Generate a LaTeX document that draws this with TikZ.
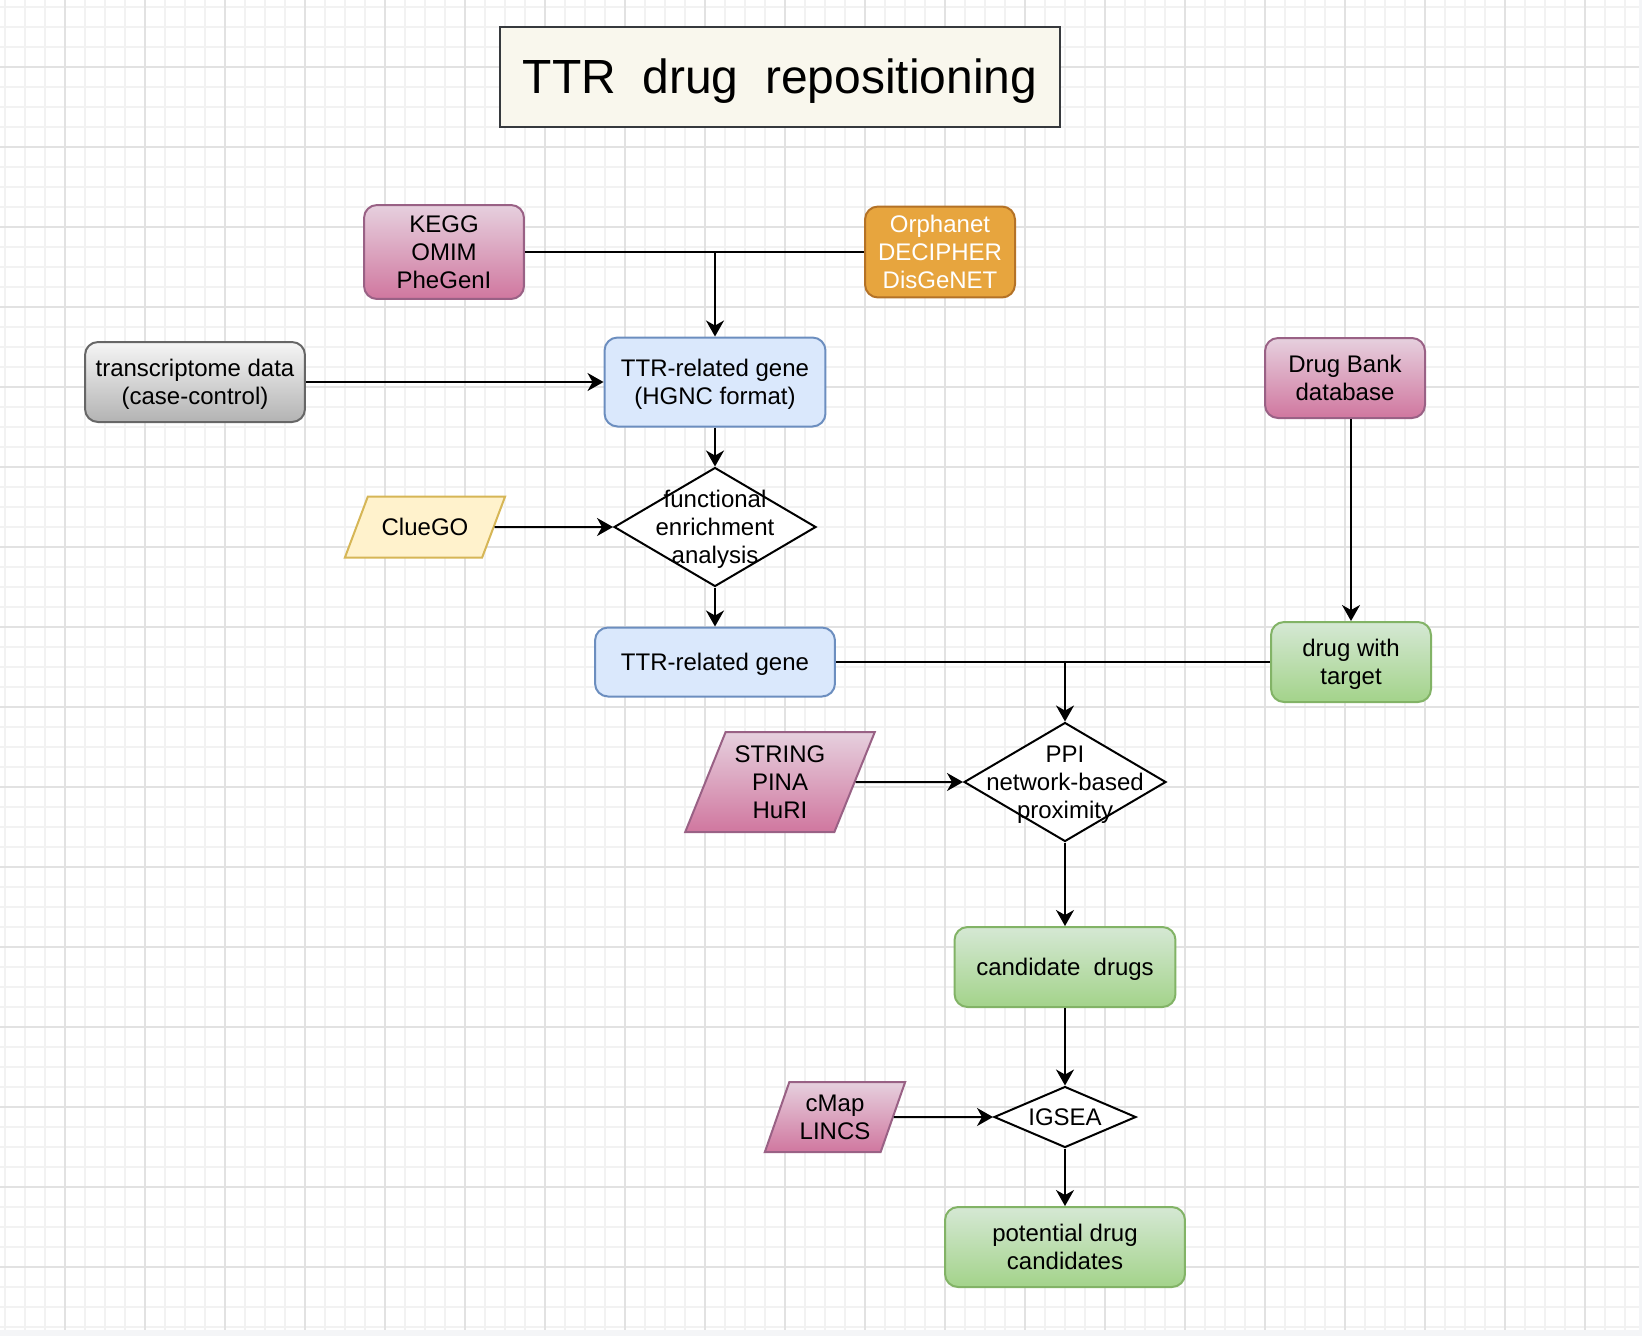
\documentclass[tikz,border=0pt]{standalone}
\usepackage{fontspec}
\setmainfont{Liberation Sans}
\usepackage{tikz}
\usetikzlibrary{shapes.geometric,arrows.meta}

\definecolor{outgray}{HTML}{F4F5F7}
\definecolor{minorgray}{HTML}{F2F2F2}
\definecolor{majorgray}{HTML}{E2E2E2}
\definecolor{titlefill}{HTML}{F9F7ED}
\definecolor{titleline}{HTML}{36393D}
\definecolor{pinktop}{HTML}{E6D0DE}
\definecolor{pinkbot}{HTML}{D0779F}
\definecolor{pinkline}{HTML}{996185}
\definecolor{orangefill}{HTML}{E7A53E}
\definecolor{orangeline}{HTML}{B47226}
\definecolor{bluefill}{HTML}{DAE8FC}
\definecolor{blueline}{HTML}{6C8EBF}
\definecolor{graytop}{HTML}{F5F5F5}
\definecolor{graybot}{HTML}{B3B3B3}
\definecolor{grayline}{HTML}{666666}
\definecolor{greentop}{HTML}{D5E8D4}
\definecolor{greenbot}{HTML}{A3D38A}
\definecolor{greenline}{HTML}{82B366}
\definecolor{yellowfill}{HTML}{FFF2CC}
\definecolor{yellowline}{HTML}{D6B656}

\newcommand{\topstrut}{\rule{0pt}{0.905em}}

\begin{document}
\begin{tikzpicture}[x=0.02cm, y=-0.02cm]
        \useasboundingbox (0,0) rectangle (1642,1336);
        \fill[outgray] (0,0) rectangle (1642,1336);
        \fill[white] (0,0) rectangle (1639,1330);
        \begin{scope}[line width=0.04cm]
            \foreach \x in {5,25,...,1625} \draw[minorgray] (\x,0) -- (\x,1330);
            \foreach \y in {7,27,...,1327} \draw[minorgray] (0,\y) -- (1639,\y);
            \foreach \x in {65,145,...,1625} \draw[majorgray] (\x,0) -- (\x,1330);
            \foreach \y in {67,147,...,1267} \draw[majorgray] (0,\y) -- (1639,\y);
        \end{scope}
        \begin{scope}[every node/.style={font=\fontsize{13.66}{16.1}\selectfont, align=center, line width=0.04cm, inner sep=0pt,
                execute at begin node={\topstrut}, execute at end node={\rule[-0.212em]{0pt}{0.212em}}},
            box/.style={rectangle, rounded corners=0.26cm, draw},
            pinkbox/.style={box, draw=pinkline, top color=pinktop, bottom color=pinkbot},
            orangebox/.style={box, draw=orangeline, fill=orangefill, text=white},
            bluebox/.style={box, draw=blueline, fill=bluefill},
            graybox/.style={box, draw=grayline, top color=graytop, bottom color=graybot},
            greenbox/.style={box, draw=greenline, top color=greentop, bottom color=greenbot},
            dataio/.style={trapezium, trapezium stretches=true, draw},
            decision/.style={diamond, draw=black, fill=white}]
            \node[draw=titleline, fill=titlefill, minimum width=11.2cm, minimum height=2cm,
                font=\fontsize{27.3}{32}\selectfont] (title) at (780,77) {TTR~~drug~~repositioning};

            \node[pinkbox, minimum width=3.2cm, minimum height=1.88cm] (kegg) at (444,252) {\topstrut KEGG\\OMIM\\PheGenI};
            \node[orangebox, minimum width=3cm, minimum height=1.82cm] (orph) at (940,252) {\topstrut Orphanet\\DECIPHER\\DisGeNET};

            \node[graybox, minimum width=4.4cm, minimum height=1.6cm] (trans) at (195,382) {\topstrut transcriptome data\\(case-control)};
            \node[bluebox, minimum width=4.42cm, minimum height=1.78cm] (hgnc) at (715,382) {\topstrut TTR-related gene\\(HGNC format)};
            \node[pinkbox, minimum width=3.2cm, minimum height=1.6cm] (dbank) at (1345,378) {\topstrut Drug Bank\\database};

            \node[dataio, draw=yellowline, fill=yellowfill, trapezium left angle=57, trapezium right angle=123,
                minimum width=3.22cm, minimum height=1.22cm] (clue) at (425,527) {ClueGO};
            \node[decision, minimum width=4.04cm, minimum height=2.38cm,
                label=center:{\topstrut functional\\enrichment\\analysis}] (fea) at (715,527) {};

            \node[bluebox, minimum width=4.8cm, minimum height=1.38cm] (gene) at (715,662) {TTR-related gene};
            \node[greenbox, minimum width=3.2cm, minimum height=1.6cm] (dwt) at (1351,662) {\topstrut drug with\\target};

            \node[dataio, draw=pinkline, top color=pinktop, bottom color=pinkbot, trapezium left angle=68, trapezium right angle=112,
                minimum width=3.8cm, minimum height=2cm] (string) at (780,782) {\topstrut STRING\\PINA\\HuRI};
            \node[decision, minimum width=4.04cm, minimum height=2.38cm,
                label=center:{\topstrut PPI\\network-based\\proximity}] (ppi) at (1065,782) {};

            \node[greenbox, minimum width=4.42cm, minimum height=1.6cm] (cand) at (1065,967) {candidate~~drugs};

            \node[dataio, draw=pinkline, top color=pinktop, bottom color=pinkbot, trapezium left angle=71, trapezium right angle=109,
                minimum width=2.82cm, minimum height=1.4cm] (cmap) at (835,1117) {\topstrut cMap\\LINCS};
            \node[decision, minimum width=2.84cm, minimum height=1.22cm, label=center:IGSEA] (igsea) at (1065,1117) {};

            \node[greenbox, minimum width=4.8cm, minimum height=1.6cm] (pot) at (1065,1247) {\topstrut potential drug\\candidates};
        \end{scope}
        \begin{scope}[every edge/.style={draw, line width=0.04cm},
            >={Stealth[length=0.32cm, width=0.36cm, inset=0.1cm]}]
            \path [-] (kegg) edge (orph);
            \path [->] (kegg.east -| hgnc.north) edge (hgnc.north);
            \path [->] (trans) edge (hgnc);
            \path [->] (hgnc) edge (fea);
            \path [->] (clue) edge (fea);
            \path [->] (fea) edge (gene);

            \path [-] (gene) edge (dwt);
            \path [->] (dbank.south -| dwt.north) edge (dwt.north);
            \path [->] (gene.east -| ppi.north) edge (ppi.north);
            \path [->] (string) edge (ppi);

            \path [->] (ppi) edge (cand);
            \path [->] (cand) edge (igsea);
            \path [->] (cmap) edge (igsea);
            \path [->] (igsea) edge (pot);
        \end{scope}
    \end{tikzpicture}
\end{document}
